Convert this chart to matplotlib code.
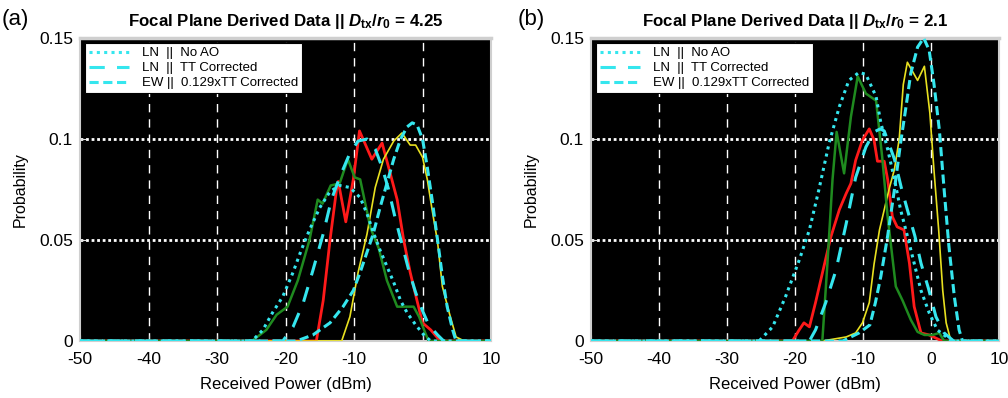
import matplotlib
matplotlib.use('Agg')
import matplotlib.pyplot as plt
from matplotlib.lines import Line2D

plt.rcParams['font.family'] = ['Liberation Sans', 'DejaVu Sans']
plt.rcParams['axes.unicode_minus'] = False
plt.rcParams['mathtext.fontset'] = 'custom'
plt.rcParams['mathtext.it'] = 'Liberation Sans:italic:bold'
plt.rcParams['mathtext.rm'] = 'Liberation Sans:bold'
plt.rcParams['mathtext.bf'] = 'Liberation Sans:bold'

# ---- panel (a) : Dtx/r0 = 4.25 ----
a_green_x = [-50, -24.9, -22.8, -21.3, -19.7, -18.2, -16.5, -15.3, -14.6, -13.4, -12.1, -10.9, -9.9, -9.1, -7.6, -6.4, -5.2, -3.7, -1.3, -0.5, 0.4, 0.9, 10]
a_green_y = [0, 0, 0.0055, 0.013, 0.017, 0.030, 0.050, 0.070, 0.068, 0.077, 0.078, 0.090, 0.081, 0.080, 0.056, 0.046, 0.030, 0.017, 0.017, 0.012, 0.004, 0, 0]

a_red_x = [-50, -15.5, -14.5, -13.5, -12.55, -12.3, -11.2, -10.1, -9.2, -7.4, -5.9, -4.95, -3.7, -2.75, -1.8, -0.8, 0, 1.2, 2.6, 10]
a_red_y = [0, 0, 0.020, 0.050, 0.075, 0.079, 0.059, 0.080, 0.104, 0.090, 0.098, 0.086, 0.070, 0.050, 0.034, 0.020, 0.009, 0.0055, 0, 0]

a_yellow_x = [-50, -11.8, -10.6, -9.4, -8.1, -6.9, -5.7, -4.2, -3.0, -1.8, -1.0, 0, 0.7, 1.4, 2.2, 2.9, 3.9, 4.9, 6.1, 10]
a_yellow_y = [0, 0, 0.012, 0.034, 0.053, 0.076, 0.090, 0.099, 0.103, 0.097, 0.097, 0.091, 0.080, 0.065, 0.049, 0.027, 0.014, 0.002, 0, 0]

a_noao_x = [-50, -24.9, -23.3, -21.9, -20.4, -18.9, -17.7, -16.5, -15.0, -13.5, -12.1, -10.6, -9.1, -8.1, -7.2, -6.2, -5.2, -4.2, -3.2, -2.25, -1.0, 0.2, 1.2, 10]
a_noao_y = [0, 0, 0.0055, 0.014, 0.022, 0.034, 0.045, 0.055, 0.066, 0.074, 0.077, 0.076, 0.071, 0.063, 0.054, 0.045, 0.037, 0.029, 0.020, 0.014, 0.008, 0.003, 0, 0]

a_tt_x = [-50, -20.4, -18.9, -17.4, -16.0, -14.5, -13.3, -12.1, -10.6, -9.4, -8.1, -6.9, -5.9, -4.95, -4.0, -3.0, -2.0, -1.0, 0, 0.9, 2.2, 3.1, 10]
a_tt_y = [0, 0, 0.007, 0.019, 0.035, 0.053, 0.070, 0.081, 0.093, 0.099, 0.100, 0.095, 0.086, 0.075, 0.061, 0.048, 0.035, 0.024, 0.015, 0.008, 0.003, 0, 0]

a_ew_x = [-50, -18.4, -16.0, -13.5, -11.6, -10.1, -9.1, -8.1, -7.2, -6.2, -5.2, -4.2, -3.2, -2.25, -1.5, -0.8, 0, 0.7, 1.4, 2.2, 2.9, 3.6, 4.4, 4.9, 10]
a_ew_y = [0, 0, 0.003, 0.009, 0.017, 0.025, 0.034, 0.044, 0.053, 0.066, 0.078, 0.090, 0.100, 0.106, 0.108, 0.107, 0.100, 0.086, 0.070, 0.050, 0.032, 0.017, 0.0055, 0, 0]

# ---- panel (b) : Dtx/r0 = 2.1 ----
b_green_x = [-50, -16.0, -15.25, -14.5, -13.9, -12.8, -11.8, -10.8, -9.6, -8.1, -7.2, -6.4, -5.2, -4.2, -3.0, -2.0, -1.0, 0.2, 1.2, 1.9, 10]
b_green_y = [0, 0, 0.0385, 0.080, 0.1035, 0.083, 0.111, 0.131, 0.1225, 0.119, 0.091, 0.0615, 0.027, 0.020, 0.0105, 0.0045, 0.003, 0.003, 0.004, 0, 0]

b_red_x = [-50, -20.4, -19.4, -18.7, -17.9, -17.0, -16.0, -14.75, -13.5, -12.5, -11.8, -11.1, -10.1, -9.1, -8.4, -7.9, -6.9, -6.4, -5.7, -5.0, -4.0, -3.2, -2.5, -1.5, -0.3, 1.6, 10]
b_red_y = [0, 0, 0.0055, 0.009, 0.007, 0.019, 0.0335, 0.0515, 0.065, 0.073, 0.078, 0.0895, 0.0995, 0.105, 0.0995, 0.089, 0.089, 0.080, 0.0615, 0.0565, 0.055, 0.0385, 0.017, 0.004, 0.003, 0, 0]

b_yellow_x = [-50, -16.0, -12.5, -11.1, -10.1, -9.1, -8.4, -7.6, -6.9, -6.2, -5.4, -4.7, -4.1, -3.5, -2.0, -1.0, -0.2, 0.4, 1.1, 1.7, 2.2, 2.9, 10]
b_yellow_y = [0, 0, 0.002, 0.004, 0.009, 0.019, 0.038, 0.055, 0.065, 0.075, 0.085, 0.100, 0.127, 0.138, 0.129, 0.136, 0.113, 0.085, 0.055, 0.025, 0.009, 0, 0]

b_noao_x = [-50, -25.3, -23.3, -21.4, -19.4, -17.9, -16.5, -15.0, -13.5, -12.1, -10.6, -9.6, -8.1, -7.4, -6.4, -5.4, -4.5, -3.5, -2.5, -1.5, -0.3, 0.9, 3.0, 10]
b_noao_y = [0, 0, 0.007, 0.022, 0.040, 0.055, 0.075, 0.098, 0.116, 0.129, 0.133, 0.132, 0.121, 0.108, 0.095, 0.080, 0.065, 0.052, 0.0385, 0.025, 0.014, 0.0055, 0, 0]

b_tt_x = [-50, -17.9, -17.0, -15.5, -14.0, -12.5, -11.1, -9.6, -8.4, -7.5, -6.9, -5.4, -4.4, -3.5, -2.4, -1.5, -0.4, 0.7, 1.9, 3.3, 10]
b_tt_y = [0, 0, 0.0055, 0.019, 0.035, 0.058, 0.081, 0.096, 0.1035, 0.105, 0.104, 0.090, 0.076, 0.065, 0.052, 0.0385, 0.026, 0.012, 0.004, 0, 0]

b_ew_x = [-50, -13.0, -10.6, -9.0, -8.2, -7.4, -6.4, -5.4, -4.5, -3.7, -3.0, -2.0, -1.1, -0.3, 0.4, 1.2, 1.9, 2.6, 3.4, 4.1, 4.6, 10]
b_ew_y = [0, 0, 0.004, 0.008, 0.019, 0.032, 0.052, 0.075, 0.098, 0.116, 0.1325, 0.1455, 0.150, 0.144, 0.1275, 0.1045, 0.075, 0.047, 0.022, 0.0055, 0, 0]

x_ticks = [-50, -40, -30, -20, -10, 0, 10]
y_ticks = [0, 0.05, 0.1, 0.15]
y_tick_labels = ['0', '0.05', '0.1', '0.15']
legend_labels = ['LN  ||  No AO', 'LN  ||  TT Corrected', 'EW ||  0.129xTT Corrected']

CYAN = '#35e6ee'
STY_NOAO = dict(color=CYAN, lw=2.2, dashes=(1, 1.4))
STY_TT = dict(color=CYAN, lw=2.2, dashes=(5, 4))
STY_EW = dict(color=CYAN, lw=2.2, dashes=(3, 1.5))


def draw_panel(ax, data, title, letter, letter_x):
    gx, gy, rx, ry, yx, yy, nx, ny, tx, ty, ex, ey = data
    ax.set_facecolor('black')
    # grid, matlab style on black
    for xv in x_ticks[1:-1]:
        ax.axvline(xv, color='white', lw=1.0, dashes=(6, 5), zorder=1)
    for yv in y_ticks[1:3]:
        ax.axhline(yv, color='white', lw=2.0, dashes=(1, 1), zorder=1)

    ax.plot(rx, ry, color='#ff1a1a', lw=2.0, zorder=3)
    ax.plot(yx, yy, color='#e8e020', lw=1.2, zorder=3)
    ax.plot(gx, gy, color='#1f8a1f', lw=1.8, zorder=3)
    ax.plot(nx, ny, zorder=4, **STY_NOAO)
    ax.plot(tx, ty, zorder=4, **STY_TT)
    ax.plot(ex, ey, zorder=4, **STY_EW)

    ax.set_xlim(-50, 10)
    ax.set_ylim(0, 0.15)
    ax.set_xticks(x_ticks)
    ax.set_yticks(y_ticks)
    ax.set_yticklabels(y_tick_labels)
    ax.tick_params(direction='in', colors='#e0e0e0', labelcolor='black', labelsize=12.5, length=4)
    ax.tick_params(axis='x', pad=8)
    ax.tick_params(axis='y', pad=5)
    for s in ax.spines.values():
        s.set_color('#cfcfcf')
        s.set_linewidth(1.5)
    ax.spines['top'].set_linewidth(2.5)

    ax.set_xlabel('Received Power (dBm)', fontsize=12, labelpad=7)
    ax.set_ylabel('Probability', fontsize=11.5, labelpad=8)
    ax.set_title(title, fontsize=12.2, fontweight='bold', pad=9)
    ax.text(letter_x, 1.06, letter, transform=ax.transAxes, fontsize=16, ha='left', va='center')

    handles = [Line2D([], [], **STY_NOAO), Line2D([], [], **STY_TT), Line2D([], [], **STY_EW)]
    leg = ax.legend(handles, legend_labels, loc='upper left', fontsize=9.5, frameon=True,
                    fancybox=False, framealpha=1, edgecolor='black', handlelength=3.0,
                    labelspacing=0.2, borderpad=0.3, borderaxespad=0.4, handletextpad=1.0)
    leg.get_frame().set_linewidth(0.8)


fig = plt.figure(figsize=(10.08, 3.98), dpi=100)
ax1 = fig.add_axes([0.0794, 0.1432, 0.4077, 0.7613])
ax2 = fig.add_axes([0.5863, 0.1432, 0.4050, 0.7613])

draw_panel(ax1, [a_green_x, a_green_y, a_red_x, a_red_y, a_yellow_x, a_yellow_y,
                 a_noao_x, a_noao_y, a_tt_x, a_tt_y, a_ew_x, a_ew_y],
           r'Focal Plane Derived Data || $D_{\mathrm{tx}}/r_{\mathrm{0}}$ = 4.25', '(a)', -0.19)
draw_panel(ax2, [b_green_x, b_green_y, b_red_x, b_red_y, b_yellow_x, b_yellow_y,
                 b_noao_x, b_noao_y, b_tt_x, b_tt_y, b_ew_x, b_ew_y],
           r'Focal Plane Derived Data || $D_{\mathrm{tx}}/r_{\mathrm{0}}$ = 2.1', '(b)', -0.18)

fig.savefig('out.png', dpi=100)
